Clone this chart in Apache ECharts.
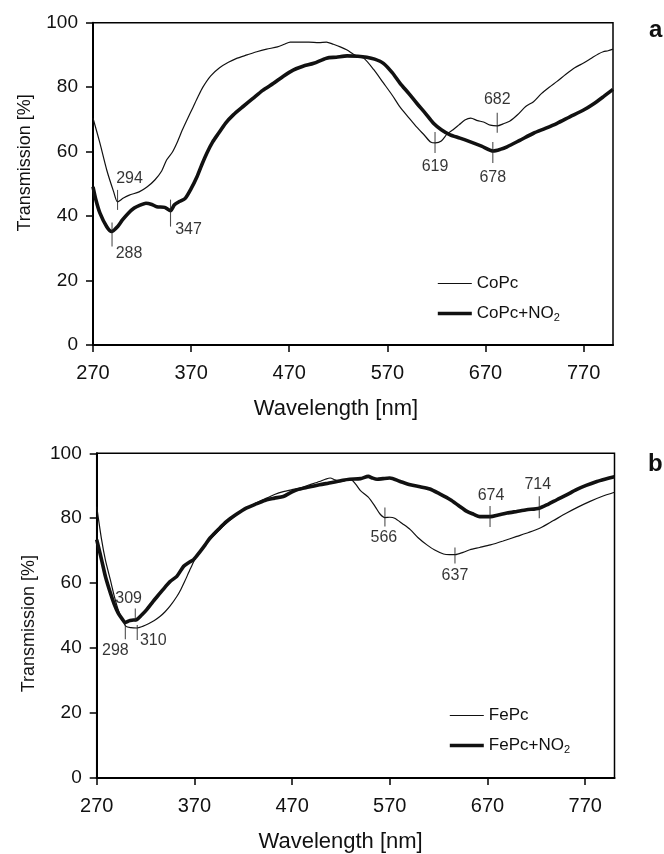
<!DOCTYPE html>
<html>
<head>
<meta charset="utf-8">
<script src="https://cdn.jsdelivr.net/npm/echarts@6/dist/echarts.min.js"></script>
<style>
  html, body { margin: 0; padding: 0; background: #fff; }
  #chart { width: 664px; height: 854px; }
</style>
</head>
<body>
<div id="chart"></div>
<script>
// 刻度
const xTicks = [270, 370, 470, 570, 670, 770];

// a: CoPc
const coWl = [270, 277, 284, 291, 295, 301, 307, 317, 325, 333, 340, 345, 351, 356, 361, 366, 372, 377, 382, 390, 399, 408, 417, 427, 437, 447, 458, 465, 471, 480, 490, 500, 508, 515, 522, 529, 535, 540, 546, 556, 566, 575, 583, 592, 600, 608, 614, 619, 625, 631, 637, 643, 649, 655, 662, 668, 675, 682, 688, 695, 703, 711, 719, 727, 735, 743, 752, 761, 770, 778, 785, 790, 795, 800];
const coT = [70.4, 62.7, 54.3, 47.6, 44.4, 45.6, 46.5, 47.5, 49, 51.2, 54, 57.4, 59.9, 63, 66.7, 70, 73.8, 77, 80, 83.5, 86, 87.7, 89, 90, 91, 91.8, 92.5, 93.3, 94, 94, 94, 93.8, 94, 93.3, 92.5, 91.5, 90.3, 89.5, 89, 85.5, 81.3, 77.5, 73.8, 70.5, 67.6, 65, 63, 62.7, 63.3, 65.5, 66.8, 68.3, 69.8, 70.4, 69.6, 69.2, 68.2, 68, 68.6, 69.5, 71.5, 74, 75.5, 78, 80, 81.8, 84, 86, 87.5, 89, 90.3, 91, 91.3, 91.8];

// a: CoPc+NO2
const coNoWl = [270, 273, 277, 284, 289, 295, 300, 306, 312, 318, 324, 330, 335, 343, 349, 353, 358, 364, 370, 376, 381, 386, 392, 398, 405, 413, 423, 433, 443, 454, 464, 474, 484, 495, 508, 518, 529, 540, 549, 557, 566, 575, 583, 592, 600, 609, 617, 625, 634, 644, 654, 666, 678, 685, 692, 705, 719, 731, 743, 756, 770, 780, 790, 800];
const coNoT = [49.1, 45, 41, 36.7, 35.2, 36.7, 38.8, 40.9, 42.5, 43.4, 44, 43.6, 42.9, 42.7, 41.7, 43.5, 44.5, 45.5, 48.5, 52.2, 56, 59.5, 63, 65.7, 68.8, 71.4, 74, 76.5, 79, 81.2, 83.4, 85.3, 86.5, 87.4, 89, 89.3, 89.7, 89.6, 89.3, 88.7, 87.4, 84.5, 81.2, 78, 75, 71.8, 68.8, 66.8, 65.2, 64.2, 63.1, 61.7, 60.2, 60.7, 61.5, 63.5, 65.7, 67.2, 68.8, 70.8, 72.9, 74.8, 77, 79.3];

// b: FePc
const feWl = [270, 275, 279, 284, 288, 292, 296, 300, 305, 311, 317, 323, 329, 335, 340, 345, 352, 356, 360, 366, 372, 379, 386, 395, 403, 413, 423, 434, 444, 452, 461, 470, 478, 488, 498, 504, 509, 514, 519, 524, 529, 535, 540, 548, 555, 560, 565, 570, 575, 583, 591, 599, 608, 616, 625, 631, 637, 645, 652, 662, 673, 686, 700, 712, 724, 737, 751, 763, 775, 787, 800];
const feT = [83.6, 73.4, 67, 61, 56, 51.8, 48.8, 46.7, 46.3, 46.2, 46.7, 47.5, 48.5, 49.8, 51.2, 52.9, 55.9, 58, 60.5, 64.5, 68.2, 71, 73.4, 76.2, 78.5, 81, 83.1, 84.8, 86.2, 87.3, 88.2, 88.8, 89.3, 90.3, 91.3, 92, 92.4, 91.8, 91.3, 91.6, 92.2, 90.5, 88.5, 86.5, 83.6, 81.3, 80.2, 80.3, 80, 78.3, 76.5, 74, 71.8, 70.2, 69, 68.8, 68.8, 69.5, 70.3, 71, 71.8, 73, 74.4, 75.6, 77, 79.2, 81.6, 83.5, 85.2, 86.7, 88];

// b: FePc+NO2
const feNoWl = [270, 275, 279, 284, 288, 292, 296, 299, 303, 306, 311, 316, 321, 328, 335, 340, 345, 352, 359, 364, 369, 376, 381, 386, 395, 403, 413, 423, 434, 444, 452, 461, 468, 475, 487, 498, 507, 516, 522, 529, 540, 548, 552, 557, 563, 570, 580, 591, 601, 611, 621, 632, 640, 649, 656, 662, 673, 681, 690, 700, 710, 723, 732, 741, 751, 761, 771, 782, 790, 800];
const feNoT = [73.4, 67.2, 62, 57, 53.5, 50.8, 49, 47.9, 48.4, 48.6, 48.8, 50.2, 51.8, 54.5, 57, 58.8, 60.5, 62.1, 65.2, 66.3, 67.2, 69.8, 71.8, 73.9, 76.7, 79, 81.2, 83.1, 84.5, 85.7, 86.2, 86.7, 87.8, 88.8, 89.6, 90.3, 90.8, 91.3, 91.7, 92, 92.2, 92.9, 92.4, 92, 92.2, 92.4, 91.4, 90.3, 89.7, 89, 87.5, 85.7, 84, 82.1, 81.2, 80.5, 80.5, 81, 81.6, 82.1, 82.6, 83.1, 84.3, 85.7, 87.2, 88.8, 90.1, 91.3, 92, 92.8];

// 峰位标注
const aMarkLabel = ['294', '288', '347', '619', '682', '678'];
const aMarkX = [295, 289.4, 349, 618.6, 682, 677.5];
const aMarkY = [44.4, 35.2, 41.7, 62.7, 68, 60.2];
const bMarkLabel = ['309', '298', '310', '566', '637', '674', '714'];
const bMarkX = [309.5, 299.3, 311.5, 565, 636.7, 672.6, 723];
const bMarkY = [48.8, 46.7, 46.2, 80.2, 68.8, 80.5, 83.1];

// 标注样式（刻线长度、偏移，文字偏移）
const markStyle = {
    '294': { h: 20, off: -2, label: [12, -23.5] },
    '288': { h: 24, off: 3, label: [17, 22] },
    '347': { h: 27, off: 2.5, label: [18, 19] },
    '619': { h: 21, off: -0.5, label: [0, 24] },
    '682': { h: 20, off: -3, label: [0, -26] },
    '678': { h: 21, off: 1.5, label: [0, 26.5] },
    '309': { h: 13, off: -4.5, label: [-6.7, -20.5] },
    '298': { h: 15, off: 5.5, label: [-10, 24] },
    '310': { h: 15, off: 4.5, label: [16, 13] },
    '566': { h: 19, off: -0.5, label: [-1, 20.5] },
    '637': { h: 16, off: 1, label: [0, 21] },
    '674': { h: 21, off: 0, label: [1, -21.5] },
    '714': { h: 22, off: -1, label: [-1.5, -24] }
};

const FONT = '"Liberation Sans", Arial, Helvetica, sans-serif';
const INK = '#111';
const THIN = 1.2;
const THICK = 3.6;

document.addEventListener('DOMContentLoaded', function () {
    const chart = echarts.init(document.getElementById('chart'), null, { renderer: 'canvas' });

    const zip = (xs, ys) => xs.map((x, i) => [x, ys[i]]);

    const lineSeries = (name, wl, t, idx, width) => ({
        name: name,
        type: 'line',
        xAxisIndex: idx,
        yAxisIndex: idx,
        data: zip(wl, t),
        symbol: 'none',
        smooth: 0.25,
        lineStyle: { color: INK, width: width },
        itemStyle: { color: INK },
        z: 3
    });

    // 刻线
    const tickSeries = (labels, xs, ys, idx) => ({
        type: 'scatter',
        xAxisIndex: idx,
        yAxisIndex: idx,
        silent: true,
        z: 4,
        data: labels.map((lb, i) => ({
            name: lb,
            value: [xs[i], ys[i]],
            symbol: 'rect',
            symbolSize: [1.1, markStyle[lb].h],
            symbolOffset: [0, markStyle[lb].off]
        })),
        itemStyle: { color: '#222' }
    });

    // 标注文字
    const textSeries = (labels, xs, ys, idx) => ({
        type: 'scatter',
        xAxisIndex: idx,
        yAxisIndex: idx,
        silent: true,
        z: 5,
        symbolSize: 1,
        itemStyle: { color: 'transparent' },
        data: labels.map((lb, i) => ({
            name: lb,
            value: [xs[i], ys[i]],
            label: { offset: markStyle[lb].label }
        })),
        label: {
            show: true,
            position: 'inside',
            formatter: '{b}',
            fontFamily: FONT,
            fontSize: 16,
            color: '#000'
        }
    });

    const xAxis = (idx, padRight) => ({
        gridIndex: idx,
        type: 'value',
        min: 270,
        max: 800,
        name: 'Wavelength [nm]',
        nameLocation: 'middle',
        nameGap: 53,
        nameTextStyle: { fontFamily: FONT, fontSize: 22, color: INK, padding: [0, padRight, 0, 0] },
        axisLine: { show: true, lineStyle: { color: '#000', width: 2 } },
        axisTick: { show: true, customValues: xTicks, length: 7, lineStyle: { color: '#000', width: 1.5 } },
        axisLabel: { customValues: xTicks, fontFamily: FONT, fontSize: 20, color: INK, margin: 18 },
        splitLine: { show: false }
    });

    const yAxis = (idx, pad) => ({
        gridIndex: idx,
        type: 'value',
        min: 0,
        max: 100,
        interval: 20,
        name: 'Transmission [%]',
        nameLocation: 'middle',
        nameGap: 59,
        nameTextStyle: { fontFamily: FONT, fontSize: 18, color: INK, padding: pad },
        axisLine: { show: true, lineStyle: { color: '#000', width: 2 } },
        axisTick: { show: true, length: 7, lineStyle: { color: '#000', width: 1.5 } },
        axisLabel: { fontFamily: FONT, fontSize: 19, color: INK, margin: 15 },
        splitLine: { show: false }
    });

    // 图例：只画线，不画圆点；细线/粗线分别设置
    const legend = (names, left, top) => ({
        data: [
            { name: names[0], lineStyle: { width: THIN, color: INK } },
            { name: names[1], lineStyle: { width: THICK, color: INK } }
        ],
        orient: 'vertical',
        left: left,
        top: top,
        padding: 0,
        itemWidth: 34,
        itemHeight: 14,
        itemGap: 13,
        selectedMode: false,
        itemStyle: { color: 'transparent', borderWidth: 0, opacity: 0 },
        formatter: (name) => name.replace('NO2', 'NO{sub|2}'),
        textStyle: {
            fontFamily: FONT,
            fontSize: 17,
            color: INK,
            rich: { sub: { fontFamily: FONT, fontSize: 11, color: INK, padding: [9, 0, 0, 0] } }
        }
    });

    chart.setOption({
        backgroundColor: '#fff',
        animation: false,
        title: [
            { text: 'a', left: 649, top: 18, padding: 0, textStyle: { fontFamily: FONT, fontSize: 24, fontWeight: 'bold', color: INK } },
            { text: 'b', left: 648, top: 452, padding: 0, textStyle: { fontFamily: FONT, fontSize: 24, fontWeight: 'bold', color: INK } }
        ],
        grid: [
            { left: 93, right: 51, top: 22.7, height: 322.3, show: true, borderColor: '#000', borderWidth: 1.5 },
            { left: 96.7, right: 49.5, top: 453.3, height: 325.2, show: true, borderColor: '#000', borderWidth: 1.5 }
        ],
        legend: [
            legend(['CoPc', 'CoPc+NO2'], 436, 275),
            legend(['FePc', 'FePc+NO2'], 448, 707)
        ],
        xAxis: [xAxis(0, 34), xAxis(1, 30)],
        yAxis: [yAxis(0, [0, 0, 0, 42]), yAxis(1, [0, 16, 0, 0])],
        series: [
            lineSeries('CoPc', coWl, coT, 0, THIN),
            lineSeries('CoPc+NO2', coNoWl, coNoT, 0, THICK),
            tickSeries(aMarkLabel, aMarkX, aMarkY, 0),
            textSeries(aMarkLabel, aMarkX, aMarkY, 0),
            lineSeries('FePc', feWl, feT, 1, THIN),
            lineSeries('FePc+NO2', feNoWl, feNoT, 1, THICK),
            tickSeries(bMarkLabel, bMarkX, bMarkY, 1),
            textSeries(bMarkLabel, bMarkX, bMarkY, 1)
        ]
    });

    window.addEventListener('resize', () => chart.resize());
});
</script>
</body>
</html>
